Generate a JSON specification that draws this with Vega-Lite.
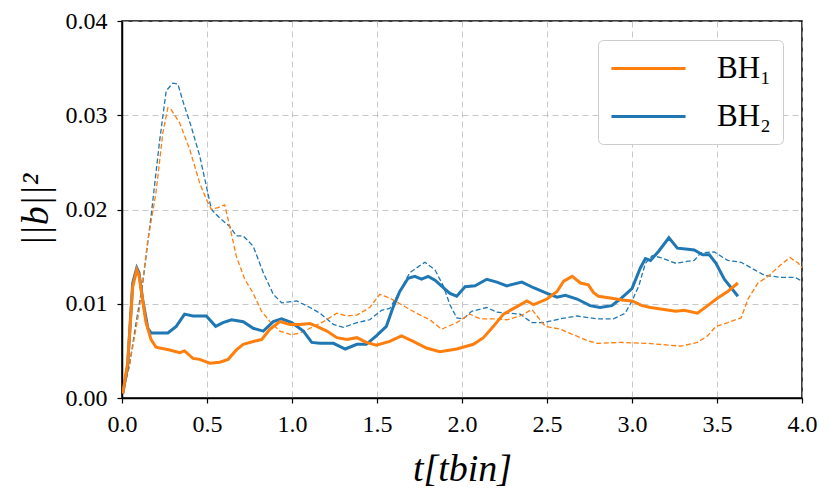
{
  "$schema": "https://vega.github.io/schema/vega-lite/v6.json",
  "width": 680,
  "height": 377,
  "autosize": "none",
  "padding": {"left": 122, "top": 21, "right": 28, "bottom": 99},
  "background": "white",
  "config": {
    "font": "Liberation Serif",
    "view": {"stroke": "black", "strokeWidth": 1.5},
    "axis": {
      "domainColor": "black",
      "domainWidth": 1.5,
      "tickColor": "black",
      "tickSize": 5,
      "tickWidth": 1.2,
      "labelFont": "Liberation Serif",
      "labelFontSize": 24,
      "labelFontWeight": "normal",
      "labelColor": "black",
      "labelFlush": false,
      "titleFont": "Liberation Serif",
      "titleColor": "black",
      "titleFontWeight": "normal",
      "grid": true,
      "gridColor": "#b0b0b0",
      "gridDash": [6, 4],
      "gridWidth": 1,
      "gridOpacity": 0.7
    },
    "legend": {
      "labelFont": "Liberation Serif"
    }
  },
  "data": {
    "values": [
      {"t": 0.005, "v": 0.0005, "bh": "BH₂", "kind": "solid"},
      {"t": 0.033, "v": 0.0034, "bh": "BH₂", "kind": "solid"},
      {"t": 0.063, "v": 0.0122, "bh": "BH₂", "kind": "solid"},
      {"t": 0.087, "v": 0.0138, "bh": "BH₂", "kind": "solid"},
      {"t": 0.1, "v": 0.0133, "bh": "BH₂", "kind": "solid"},
      {"t": 0.122, "v": 0.0104, "bh": "BH₂", "kind": "solid"},
      {"t": 0.152, "v": 0.0074, "bh": "BH₂", "kind": "solid"},
      {"t": 0.171, "v": 0.0069, "bh": "BH₂", "kind": "solid"},
      {"t": 0.27, "v": 0.0069, "bh": "BH₂", "kind": "solid"},
      {"t": 0.319, "v": 0.0076, "bh": "BH₂", "kind": "solid"},
      {"t": 0.368, "v": 0.0089, "bh": "BH₂", "kind": "solid"},
      {"t": 0.417, "v": 0.0087, "bh": "BH₂", "kind": "solid"},
      {"t": 0.496, "v": 0.0087, "bh": "BH₂", "kind": "solid"},
      {"t": 0.551, "v": 0.0076, "bh": "BH₂", "kind": "solid"},
      {"t": 0.594, "v": 0.008, "bh": "BH₂", "kind": "solid"},
      {"t": 0.644, "v": 0.0083, "bh": "BH₂", "kind": "solid"},
      {"t": 0.713, "v": 0.0081, "bh": "BH₂", "kind": "solid"},
      {"t": 0.772, "v": 0.0074, "bh": "BH₂", "kind": "solid"},
      {"t": 0.831, "v": 0.0071, "bh": "BH₂", "kind": "solid"},
      {"t": 0.89, "v": 0.0081, "bh": "BH₂", "kind": "solid"},
      {"t": 0.939, "v": 0.0084, "bh": "BH₂", "kind": "solid"},
      {"t": 0.998, "v": 0.008, "bh": "BH₂", "kind": "solid"},
      {"t": 1.067, "v": 0.0071, "bh": "BH₂", "kind": "solid"},
      {"t": 1.116, "v": 0.0059, "bh": "BH₂", "kind": "solid"},
      {"t": 1.165, "v": 0.0058, "bh": "BH₂", "kind": "solid"},
      {"t": 1.244, "v": 0.0058, "bh": "BH₂", "kind": "solid"},
      {"t": 1.313, "v": 0.0052, "bh": "BH₂", "kind": "solid"},
      {"t": 1.382, "v": 0.0057, "bh": "BH₂", "kind": "solid"},
      {"t": 1.437, "v": 0.0057, "bh": "BH₂", "kind": "solid"},
      {"t": 1.496, "v": 0.0066, "bh": "BH₂", "kind": "solid"},
      {"t": 1.555, "v": 0.0076, "bh": "BH₂", "kind": "solid"},
      {"t": 1.594, "v": 0.0096, "bh": "BH₂", "kind": "solid"},
      {"t": 1.634, "v": 0.0113, "bh": "BH₂", "kind": "solid"},
      {"t": 1.683, "v": 0.0127, "bh": "BH₂", "kind": "solid"},
      {"t": 1.722, "v": 0.0129, "bh": "BH₂", "kind": "solid"},
      {"t": 1.762, "v": 0.0126, "bh": "BH₂", "kind": "solid"},
      {"t": 1.801, "v": 0.0129, "bh": "BH₂", "kind": "solid"},
      {"t": 1.841, "v": 0.0125, "bh": "BH₂", "kind": "solid"},
      {"t": 1.89, "v": 0.0117, "bh": "BH₂", "kind": "solid"},
      {"t": 1.929, "v": 0.0111, "bh": "BH₂", "kind": "solid"},
      {"t": 1.969, "v": 0.0108, "bh": "BH₂", "kind": "solid"},
      {"t": 2.018, "v": 0.0118, "bh": "BH₂", "kind": "solid"},
      {"t": 2.077, "v": 0.0119, "bh": "BH₂", "kind": "solid"},
      {"t": 2.146, "v": 0.0126, "bh": "BH₂", "kind": "solid"},
      {"t": 2.205, "v": 0.0123, "bh": "BH₂", "kind": "solid"},
      {"t": 2.264, "v": 0.0119, "bh": "BH₂", "kind": "solid"},
      {"t": 2.352, "v": 0.0123, "bh": "BH₂", "kind": "solid"},
      {"t": 2.421, "v": 0.0117, "bh": "BH₂", "kind": "solid"},
      {"t": 2.5, "v": 0.0111, "bh": "BH₂", "kind": "solid"},
      {"t": 2.559, "v": 0.0107, "bh": "BH₂", "kind": "solid"},
      {"t": 2.608, "v": 0.0109, "bh": "BH₂", "kind": "solid"},
      {"t": 2.677, "v": 0.0105, "bh": "BH₂", "kind": "solid"},
      {"t": 2.753, "v": 0.0098, "bh": "BH₂", "kind": "solid"},
      {"t": 2.812, "v": 0.0096, "bh": "BH₂", "kind": "solid"},
      {"t": 2.881, "v": 0.0098, "bh": "BH₂", "kind": "solid"},
      {"t": 2.931, "v": 0.0105, "bh": "BH₂", "kind": "solid"},
      {"t": 3.0, "v": 0.0116, "bh": "BH₂", "kind": "solid"},
      {"t": 3.049, "v": 0.0138, "bh": "BH₂", "kind": "solid"},
      {"t": 3.079, "v": 0.0148, "bh": "BH₂", "kind": "solid"},
      {"t": 3.109, "v": 0.0146, "bh": "BH₂", "kind": "solid"},
      {"t": 3.158, "v": 0.0156, "bh": "BH₂", "kind": "solid"},
      {"t": 3.217, "v": 0.017, "bh": "BH₂", "kind": "solid"},
      {"t": 3.267, "v": 0.0159, "bh": "BH₂", "kind": "solid"},
      {"t": 3.316, "v": 0.0158, "bh": "BH₂", "kind": "solid"},
      {"t": 3.366, "v": 0.0157, "bh": "BH₂", "kind": "solid"},
      {"t": 3.415, "v": 0.0152, "bh": "BH₂", "kind": "solid"},
      {"t": 3.455, "v": 0.0152, "bh": "BH₂", "kind": "solid"},
      {"t": 3.494, "v": 0.0143, "bh": "BH₂", "kind": "solid"},
      {"t": 3.543, "v": 0.0126, "bh": "BH₂", "kind": "solid"},
      {"t": 3.623, "v": 0.0108, "bh": "BH₂", "kind": "solid"},

      {"t": 0.005, "v": 0.0005, "bh": "BH₁", "kind": "solid"},
      {"t": 0.033, "v": 0.0037, "bh": "BH₁", "kind": "solid"},
      {"t": 0.063, "v": 0.0118, "bh": "BH₁", "kind": "solid"},
      {"t": 0.087, "v": 0.0136, "bh": "BH₁", "kind": "solid"},
      {"t": 0.1, "v": 0.013, "bh": "BH₁", "kind": "solid"},
      {"t": 0.14, "v": 0.0081, "bh": "BH₁", "kind": "solid"},
      {"t": 0.171, "v": 0.0062, "bh": "BH₁", "kind": "solid"},
      {"t": 0.2, "v": 0.0054, "bh": "BH₁", "kind": "solid"},
      {"t": 0.28, "v": 0.0051, "bh": "BH₁", "kind": "solid"},
      {"t": 0.339, "v": 0.0048, "bh": "BH₁", "kind": "solid"},
      {"t": 0.368, "v": 0.005, "bh": "BH₁", "kind": "solid"},
      {"t": 0.417, "v": 0.0042, "bh": "BH₁", "kind": "solid"},
      {"t": 0.457, "v": 0.0041, "bh": "BH₁", "kind": "solid"},
      {"t": 0.516, "v": 0.0037, "bh": "BH₁", "kind": "solid"},
      {"t": 0.575, "v": 0.0038, "bh": "BH₁", "kind": "solid"},
      {"t": 0.624, "v": 0.0041, "bh": "BH₁", "kind": "solid"},
      {"t": 0.673, "v": 0.0051, "bh": "BH₁", "kind": "solid"},
      {"t": 0.713, "v": 0.0057, "bh": "BH₁", "kind": "solid"},
      {"t": 0.772, "v": 0.006, "bh": "BH₁", "kind": "solid"},
      {"t": 0.821, "v": 0.0062, "bh": "BH₁", "kind": "solid"},
      {"t": 0.87, "v": 0.0073, "bh": "BH₁", "kind": "solid"},
      {"t": 0.929, "v": 0.0081, "bh": "BH₁", "kind": "solid"},
      {"t": 0.988, "v": 0.0078, "bh": "BH₁", "kind": "solid"},
      {"t": 1.047, "v": 0.0078, "bh": "BH₁", "kind": "solid"},
      {"t": 1.106, "v": 0.0079, "bh": "BH₁", "kind": "solid"},
      {"t": 1.146, "v": 0.0076, "bh": "BH₁", "kind": "solid"},
      {"t": 1.205, "v": 0.0071, "bh": "BH₁", "kind": "solid"},
      {"t": 1.264, "v": 0.0064, "bh": "BH₁", "kind": "solid"},
      {"t": 1.323, "v": 0.0062, "bh": "BH₁", "kind": "solid"},
      {"t": 1.382, "v": 0.0064, "bh": "BH₁", "kind": "solid"},
      {"t": 1.437, "v": 0.0059, "bh": "BH₁", "kind": "solid"},
      {"t": 1.496, "v": 0.0056, "bh": "BH₁", "kind": "solid"},
      {"t": 1.575, "v": 0.006, "bh": "BH₁", "kind": "solid"},
      {"t": 1.644, "v": 0.0066, "bh": "BH₁", "kind": "solid"},
      {"t": 1.713, "v": 0.006, "bh": "BH₁", "kind": "solid"},
      {"t": 1.791, "v": 0.0053, "bh": "BH₁", "kind": "solid"},
      {"t": 1.87, "v": 0.0049, "bh": "BH₁", "kind": "solid"},
      {"t": 1.969, "v": 0.0052, "bh": "BH₁", "kind": "solid"},
      {"t": 2.067, "v": 0.0057, "bh": "BH₁", "kind": "solid"},
      {"t": 2.126, "v": 0.0064, "bh": "BH₁", "kind": "solid"},
      {"t": 2.185, "v": 0.0076, "bh": "BH₁", "kind": "solid"},
      {"t": 2.244, "v": 0.0089, "bh": "BH₁", "kind": "solid"},
      {"t": 2.323, "v": 0.0097, "bh": "BH₁", "kind": "solid"},
      {"t": 2.382, "v": 0.0103, "bh": "BH₁", "kind": "solid"},
      {"t": 2.421, "v": 0.0099, "bh": "BH₁", "kind": "solid"},
      {"t": 2.5, "v": 0.0105, "bh": "BH₁", "kind": "solid"},
      {"t": 2.559, "v": 0.0113, "bh": "BH₁", "kind": "solid"},
      {"t": 2.598, "v": 0.0124, "bh": "BH₁", "kind": "solid"},
      {"t": 2.648, "v": 0.0129, "bh": "BH₁", "kind": "solid"},
      {"t": 2.697, "v": 0.0122, "bh": "BH₁", "kind": "solid"},
      {"t": 2.743, "v": 0.012, "bh": "BH₁", "kind": "solid"},
      {"t": 2.773, "v": 0.0112, "bh": "BH₁", "kind": "solid"},
      {"t": 2.802, "v": 0.0108, "bh": "BH₁", "kind": "solid"},
      {"t": 2.872, "v": 0.0106, "bh": "BH₁", "kind": "solid"},
      {"t": 2.941, "v": 0.0104, "bh": "BH₁", "kind": "solid"},
      {"t": 3.0, "v": 0.0103, "bh": "BH₁", "kind": "solid"},
      {"t": 3.059, "v": 0.0098, "bh": "BH₁", "kind": "solid"},
      {"t": 3.109, "v": 0.0096, "bh": "BH₁", "kind": "solid"},
      {"t": 3.188, "v": 0.0094, "bh": "BH₁", "kind": "solid"},
      {"t": 3.257, "v": 0.0092, "bh": "BH₁", "kind": "solid"},
      {"t": 3.306, "v": 0.0093, "bh": "BH₁", "kind": "solid"},
      {"t": 3.385, "v": 0.009, "bh": "BH₁", "kind": "solid"},
      {"t": 3.445, "v": 0.0098, "bh": "BH₁", "kind": "solid"},
      {"t": 3.504, "v": 0.0106, "bh": "BH₁", "kind": "solid"},
      {"t": 3.563, "v": 0.0113, "bh": "BH₁", "kind": "solid"},
      {"t": 3.623, "v": 0.0122, "bh": "BH₁", "kind": "solid"},

      {"t": 0.005, "v": 0.0005, "bh": "BH₂", "kind": "dashed"},
      {"t": 0.043, "v": 0.0034, "bh": "BH₂", "kind": "dashed"},
      {"t": 0.083, "v": 0.008, "bh": "BH₂", "kind": "dashed"},
      {"t": 0.122, "v": 0.0122, "bh": "BH₂", "kind": "dashed"},
      {"t": 0.171, "v": 0.0193, "bh": "BH₂", "kind": "dashed"},
      {"t": 0.22, "v": 0.0271, "bh": "BH₂", "kind": "dashed"},
      {"t": 0.26, "v": 0.0326, "bh": "BH₂", "kind": "dashed"},
      {"t": 0.299, "v": 0.0334, "bh": "BH₂", "kind": "dashed"},
      {"t": 0.329, "v": 0.0333, "bh": "BH₂", "kind": "dashed"},
      {"t": 0.358, "v": 0.0315, "bh": "BH₂", "kind": "dashed"},
      {"t": 0.407, "v": 0.0288, "bh": "BH₂", "kind": "dashed"},
      {"t": 0.457, "v": 0.0257, "bh": "BH₂", "kind": "dashed"},
      {"t": 0.496, "v": 0.0225, "bh": "BH₂", "kind": "dashed"},
      {"t": 0.526, "v": 0.02, "bh": "BH₂", "kind": "dashed"},
      {"t": 0.575, "v": 0.0191, "bh": "BH₂", "kind": "dashed"},
      {"t": 0.634, "v": 0.0182, "bh": "BH₂", "kind": "dashed"},
      {"t": 0.673, "v": 0.0172, "bh": "BH₂", "kind": "dashed"},
      {"t": 0.713, "v": 0.0172, "bh": "BH₂", "kind": "dashed"},
      {"t": 0.772, "v": 0.0161, "bh": "BH₂", "kind": "dashed"},
      {"t": 0.831, "v": 0.0133, "bh": "BH₂", "kind": "dashed"},
      {"t": 0.89, "v": 0.011, "bh": "BH₂", "kind": "dashed"},
      {"t": 0.939, "v": 0.0101, "bh": "BH₂", "kind": "dashed"},
      {"t": 1.028, "v": 0.0103, "bh": "BH₂", "kind": "dashed"},
      {"t": 1.106, "v": 0.0096, "bh": "BH₂", "kind": "dashed"},
      {"t": 1.165, "v": 0.009, "bh": "BH₂", "kind": "dashed"},
      {"t": 1.244, "v": 0.0078, "bh": "BH₂", "kind": "dashed"},
      {"t": 1.303, "v": 0.0075, "bh": "BH₂", "kind": "dashed"},
      {"t": 1.382, "v": 0.008, "bh": "BH₂", "kind": "dashed"},
      {"t": 1.457, "v": 0.0083, "bh": "BH₂", "kind": "dashed"},
      {"t": 1.526, "v": 0.0093, "bh": "BH₂", "kind": "dashed"},
      {"t": 1.575, "v": 0.0095, "bh": "BH₂", "kind": "dashed"},
      {"t": 1.634, "v": 0.0113, "bh": "BH₂", "kind": "dashed"},
      {"t": 1.693, "v": 0.0133, "bh": "BH₂", "kind": "dashed"},
      {"t": 1.781, "v": 0.0144, "bh": "BH₂", "kind": "dashed"},
      {"t": 1.841, "v": 0.0136, "bh": "BH₂", "kind": "dashed"},
      {"t": 1.89, "v": 0.0119, "bh": "BH₂", "kind": "dashed"},
      {"t": 1.929, "v": 0.0099, "bh": "BH₂", "kind": "dashed"},
      {"t": 1.969, "v": 0.0085, "bh": "BH₂", "kind": "dashed"},
      {"t": 2.008, "v": 0.0084, "bh": "BH₂", "kind": "dashed"},
      {"t": 2.057, "v": 0.0092, "bh": "BH₂", "kind": "dashed"},
      {"t": 2.146, "v": 0.0096, "bh": "BH₂", "kind": "dashed"},
      {"t": 2.205, "v": 0.0091, "bh": "BH₂", "kind": "dashed"},
      {"t": 2.283, "v": 0.009, "bh": "BH₂", "kind": "dashed"},
      {"t": 2.343, "v": 0.0089, "bh": "BH₂", "kind": "dashed"},
      {"t": 2.411, "v": 0.008, "bh": "BH₂", "kind": "dashed"},
      {"t": 2.48, "v": 0.008, "bh": "BH₂", "kind": "dashed"},
      {"t": 2.579, "v": 0.0084, "bh": "BH₂", "kind": "dashed"},
      {"t": 2.677, "v": 0.0087, "bh": "BH₂", "kind": "dashed"},
      {"t": 2.792, "v": 0.0084, "bh": "BH₂", "kind": "dashed"},
      {"t": 2.891, "v": 0.0084, "bh": "BH₂", "kind": "dashed"},
      {"t": 2.96, "v": 0.009, "bh": "BH₂", "kind": "dashed"},
      {"t": 3.0, "v": 0.0103, "bh": "BH₂", "kind": "dashed"},
      {"t": 3.04, "v": 0.0119, "bh": "BH₂", "kind": "dashed"},
      {"t": 3.079, "v": 0.0143, "bh": "BH₂", "kind": "dashed"},
      {"t": 3.119, "v": 0.0151, "bh": "BH₂", "kind": "dashed"},
      {"t": 3.168, "v": 0.0149, "bh": "BH₂", "kind": "dashed"},
      {"t": 3.257, "v": 0.0143, "bh": "BH₂", "kind": "dashed"},
      {"t": 3.366, "v": 0.0146, "bh": "BH₂", "kind": "dashed"},
      {"t": 3.405, "v": 0.0154, "bh": "BH₂", "kind": "dashed"},
      {"t": 3.484, "v": 0.0155, "bh": "BH₂", "kind": "dashed"},
      {"t": 3.563, "v": 0.0146, "bh": "BH₂", "kind": "dashed"},
      {"t": 3.642, "v": 0.0144, "bh": "BH₂", "kind": "dashed"},
      {"t": 3.721, "v": 0.0136, "bh": "BH₂", "kind": "dashed"},
      {"t": 3.781, "v": 0.013, "bh": "BH₂", "kind": "dashed"},
      {"t": 3.879, "v": 0.0128, "bh": "BH₂", "kind": "dashed"},
      {"t": 3.958, "v": 0.0128, "bh": "BH₂", "kind": "dashed"},
      {"t": 4.0, "v": 0.0124, "bh": "BH₂", "kind": "dashed"},

      {"t": 0.005, "v": 0.0005, "bh": "BH₁", "kind": "dashed"},
      {"t": 0.043, "v": 0.0034, "bh": "BH₁", "kind": "dashed"},
      {"t": 0.102, "v": 0.0094, "bh": "BH₁", "kind": "dashed"},
      {"t": 0.15, "v": 0.0165, "bh": "BH₁", "kind": "dashed"},
      {"t": 0.2, "v": 0.0218, "bh": "BH₁", "kind": "dashed"},
      {"t": 0.24, "v": 0.0281, "bh": "BH₁", "kind": "dashed"},
      {"t": 0.27, "v": 0.0308, "bh": "BH₁", "kind": "dashed"},
      {"t": 0.289, "v": 0.0306, "bh": "BH₁", "kind": "dashed"},
      {"t": 0.339, "v": 0.0292, "bh": "BH₁", "kind": "dashed"},
      {"t": 0.398, "v": 0.0264, "bh": "BH₁", "kind": "dashed"},
      {"t": 0.457, "v": 0.0228, "bh": "BH₁", "kind": "dashed"},
      {"t": 0.496, "v": 0.0211, "bh": "BH₁", "kind": "dashed"},
      {"t": 0.526, "v": 0.02, "bh": "BH₁", "kind": "dashed"},
      {"t": 0.565, "v": 0.0202, "bh": "BH₁", "kind": "dashed"},
      {"t": 0.604, "v": 0.0205, "bh": "BH₁", "kind": "dashed"},
      {"t": 0.634, "v": 0.0182, "bh": "BH₁", "kind": "dashed"},
      {"t": 0.673, "v": 0.015, "bh": "BH₁", "kind": "dashed"},
      {"t": 0.722, "v": 0.0126, "bh": "BH₁", "kind": "dashed"},
      {"t": 0.772, "v": 0.0111, "bh": "BH₁", "kind": "dashed"},
      {"t": 0.821, "v": 0.0092, "bh": "BH₁", "kind": "dashed"},
      {"t": 0.87, "v": 0.0081, "bh": "BH₁", "kind": "dashed"},
      {"t": 0.929, "v": 0.0071, "bh": "BH₁", "kind": "dashed"},
      {"t": 0.998, "v": 0.0067, "bh": "BH₁", "kind": "dashed"},
      {"t": 1.047, "v": 0.0069, "bh": "BH₁", "kind": "dashed"},
      {"t": 1.106, "v": 0.0074, "bh": "BH₁", "kind": "dashed"},
      {"t": 1.185, "v": 0.0081, "bh": "BH₁", "kind": "dashed"},
      {"t": 1.264, "v": 0.009, "bh": "BH₁", "kind": "dashed"},
      {"t": 1.323, "v": 0.0087, "bh": "BH₁", "kind": "dashed"},
      {"t": 1.382, "v": 0.0088, "bh": "BH₁", "kind": "dashed"},
      {"t": 1.457, "v": 0.0096, "bh": "BH₁", "kind": "dashed"},
      {"t": 1.516, "v": 0.011, "bh": "BH₁", "kind": "dashed"},
      {"t": 1.575, "v": 0.0106, "bh": "BH₁", "kind": "dashed"},
      {"t": 1.654, "v": 0.0098, "bh": "BH₁", "kind": "dashed"},
      {"t": 1.732, "v": 0.009, "bh": "BH₁", "kind": "dashed"},
      {"t": 1.811, "v": 0.0083, "bh": "BH₁", "kind": "dashed"},
      {"t": 1.88, "v": 0.0073, "bh": "BH₁", "kind": "dashed"},
      {"t": 1.969, "v": 0.008, "bh": "BH₁", "kind": "dashed"},
      {"t": 2.047, "v": 0.0089, "bh": "BH₁", "kind": "dashed"},
      {"t": 2.106, "v": 0.0084, "bh": "BH₁", "kind": "dashed"},
      {"t": 2.185, "v": 0.0084, "bh": "BH₁", "kind": "dashed"},
      {"t": 2.264, "v": 0.0083, "bh": "BH₁", "kind": "dashed"},
      {"t": 2.343, "v": 0.0087, "bh": "BH₁", "kind": "dashed"},
      {"t": 2.411, "v": 0.0094, "bh": "BH₁", "kind": "dashed"},
      {"t": 2.441, "v": 0.0087, "bh": "BH₁", "kind": "dashed"},
      {"t": 2.49, "v": 0.0076, "bh": "BH₁", "kind": "dashed"},
      {"t": 2.579, "v": 0.0073, "bh": "BH₁", "kind": "dashed"},
      {"t": 2.657, "v": 0.0067, "bh": "BH₁", "kind": "dashed"},
      {"t": 2.736, "v": 0.0061, "bh": "BH₁", "kind": "dashed"},
      {"t": 2.795, "v": 0.0058, "bh": "BH₁", "kind": "dashed"},
      {"t": 2.931, "v": 0.0059, "bh": "BH₁", "kind": "dashed"},
      {"t": 3.089, "v": 0.0058, "bh": "BH₁", "kind": "dashed"},
      {"t": 3.287, "v": 0.0055, "bh": "BH₁", "kind": "dashed"},
      {"t": 3.385, "v": 0.0059, "bh": "BH₁", "kind": "dashed"},
      {"t": 3.445, "v": 0.0066, "bh": "BH₁", "kind": "dashed"},
      {"t": 3.494, "v": 0.0076, "bh": "BH₁", "kind": "dashed"},
      {"t": 3.563, "v": 0.008, "bh": "BH₁", "kind": "dashed"},
      {"t": 3.642, "v": 0.0085, "bh": "BH₁", "kind": "dashed"},
      {"t": 3.682, "v": 0.0105, "bh": "BH₁", "kind": "dashed"},
      {"t": 3.741, "v": 0.0122, "bh": "BH₁", "kind": "dashed"},
      {"t": 3.8, "v": 0.0129, "bh": "BH₁", "kind": "dashed"},
      {"t": 3.879, "v": 0.0142, "bh": "BH₁", "kind": "dashed"},
      {"t": 3.929, "v": 0.0149, "bh": "BH₁", "kind": "dashed"},
      {"t": 3.978, "v": 0.0143, "bh": "BH₁", "kind": "dashed"},
      {"t": 4.0, "v": 0.0138, "bh": "BH₁", "kind": "dashed"}
    ]
  },
  "encoding": {
    "x": {
      "field": "t",
      "type": "quantitative",
      "scale": {"domain": [0, 4], "nice": false, "zero": false},
      "axis": {
        "title": "t[tbin]",
        "titleFont": "Liberation Serif",
        "titleFontSize": 38,
        "titleFontStyle": "italic",
        "titlePadding": 14,
        "labelFont": "Liberation Serif",
        "format": ".1f",
        "values": [0, 0.5, 1, 1.5, 2, 2.5, 3, 3.5, 4],
        "labelPadding": 9
      }
    },
    "y": {
      "field": "v",
      "type": "quantitative",
      "scale": {"domain": [0, 0.04], "nice": false},
      "axis": {
        "title": "||b||²",
        "titleFont": "Liberation Serif",
        "titleFontSize": 38,
        "titleFontStyle": "italic",
        "titlePadding": 10,
        "labelFont": "Liberation Serif",
        "format": ".2f",
        "values": [0, 0.01, 0.02, 0.03, 0.04],
        "labelPadding": 10
      }
    },
    "color": {
      "field": "bh",
      "type": "nominal",
      "scale": {"domain": ["BH₁", "BH₂"], "range": ["#ff7f0e", "#1f77b4"]},
      "legend": {
        "title": null,
        "orient": "top-right",
        "offset": 19,
        "symbolType": "M-2.47,0L2.47,0",
        "symbolSize": 900,
        "symbolStrokeWidth": 3,
        "symbolOffset": 22,
        "labelFontSize": 31,
        "labelOffset": 52,
        "labelColor": "black",
        "rowPadding": 16,
        "padding": 12,
        "strokeColor": "#cccccc",
        "fillColor": "white",
        "cornerRadius": 5
      }
    }
  },
  "layer": [
    {
      "transform": [{"filter": "datum.kind == 'dashed'"}],
      "mark": {"type": "line", "strokeWidth": 1.3, "strokeDash": [5, 2.5], "clip": true}
    },
    {
      "transform": [{"filter": "datum.kind == 'solid'"}],
      "mark": {"type": "line", "strokeWidth": 3, "clip": true}
    }
  ]
}
